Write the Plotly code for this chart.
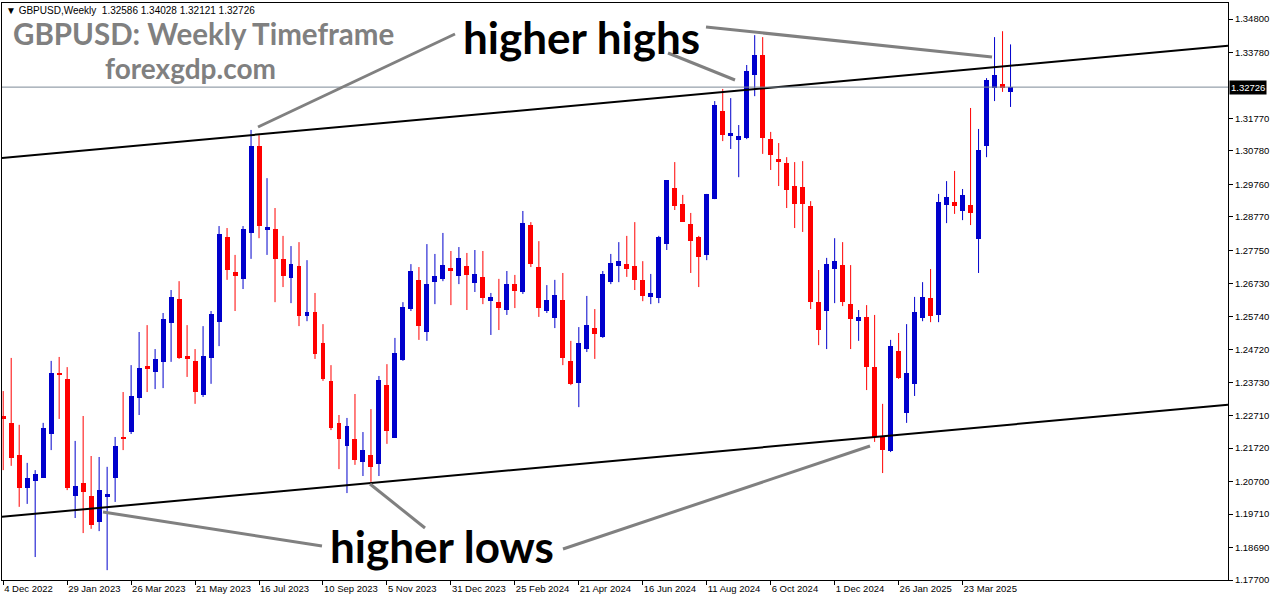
import numpy as np
import pandas as pd
import plotly.graph_objects as go

# ---------------- data (GBPUSD weekly) ----------------
start_date = "2022-12-04"
n_weeks = 127
dates = pd.date_range(start_date, periods=n_weeks, freq="7D")

opens = [
    1.2270, 1.2249, 1.2151, 1.2050, 1.2072, 1.2081, 1.2215, 1.2401, 1.2383, 1.2026,
    1.2066, 1.2026, 1.1947, 1.2026, 1.2081, 1.2206, 1.2221, 1.2325, 1.2422, 1.2404,
    1.2435, 1.2553, 1.2627, 1.2453, 1.2438, 1.2334, 1.2447, 1.2556, 1.2816, 1.2709,
    1.2688, 1.2828, 1.3093, 1.2840, 1.2840, 1.2749, 1.2691, 1.2727, 1.2575, 1.2587,
    1.2492, 1.2377, 1.2249, 1.2179, 1.2200, 1.2130, 1.2151, 1.2124, 1.2364, 1.2203,
    1.2441, 1.2596, 1.2685, 1.2526, 1.2678, 1.2688, 1.2721, 1.2697, 1.2727, 1.2675,
    1.2694, 1.2620, 1.2617, 1.2593, 1.2672, 1.2648, 1.2852, 1.2724, 1.2590, 1.2569,
    1.2624, 1.2438, 1.2371, 1.2474, 1.2538, 1.2511, 1.2678, 1.2727, 1.2733, 1.2727,
    1.2685, 1.2633, 1.2630, 1.2794, 1.2965, 1.2916, 1.2855, 1.2816, 1.2761, 1.2931,
    1.3200, 1.3123, 1.3111, 1.3117, 1.3309, 1.3370, 1.3114, 1.3053, 1.3041, 1.2971,
    1.2968, 1.2910, 1.2617, 1.2590, 1.2718, 1.2730, 1.2611, 1.2559, 1.2572, 1.2419,
    1.2206, 1.2163, 1.2468, 1.2279, 1.2368, 1.2569, 1.2630, 1.2578, 1.2913, 1.2922,
    1.2895, 1.2913, 1.2810, 1.3093, 1.3270, 1.3282, 1.32586,
]
highs = [
    1.2346, 1.2447, 1.2243, 1.2127, 1.2105, 1.2249, 1.2438, 1.2450, 1.2419, 1.2194,
    1.2270, 1.2148, 1.2145, 1.2115, 1.2206, 1.2343, 1.2425, 1.2526, 1.2547, 1.2474,
    1.2584, 1.2654, 1.2681, 1.2547, 1.2474, 1.2544, 1.2590, 1.2849, 1.2843, 1.2761,
    1.2849, 1.3142, 1.3126, 1.2995, 1.2904, 1.2819, 1.2788, 1.2800, 1.2745, 1.2645,
    1.2550, 1.2425, 1.2273, 1.2264, 1.2337, 1.2221, 1.2291, 1.2392, 1.2428, 1.2508,
    1.2617, 1.2733, 1.2724, 1.2794, 1.2764, 1.2828, 1.2773, 1.2785, 1.2767, 1.2776,
    1.2773, 1.2645, 1.2688, 1.2712, 1.2700, 1.2895, 1.2861, 1.2803, 1.2669, 1.2685,
    1.2706, 1.2499, 1.2541, 1.2636, 1.2596, 1.2712, 1.2764, 1.2800, 1.2819, 1.2861,
    1.2742, 1.2703, 1.2819, 1.2962, 1.3044, 1.2944, 1.2889, 1.2819, 1.2947, 1.3230,
    1.3267, 1.3239, 1.3157, 1.3340, 1.3431, 1.3425, 1.3136, 1.3102, 1.3059, 1.3044,
    1.3047, 1.2925, 1.2715, 1.2752, 1.2812, 1.2800, 1.2730, 1.2593, 1.2608, 1.2578,
    1.2307, 1.2502, 1.2523, 1.2550, 1.2633, 1.2678, 1.2718, 1.2947, 1.2986, 1.3017,
    1.2962, 1.3209, 1.3145, 1.3300, 1.3425, 1.3443, 1.34028,
]
lows = [
    1.2105, 1.2118, 1.1993, 1.2002, 1.1840, 1.2081, 1.2166, 1.2261, 1.2044, 1.1959,
    1.1913, 1.1926, 1.1919, 1.1800, 1.2008, 1.2166, 1.2215, 1.2273, 1.2343, 1.2352,
    1.2355, 1.2435, 1.2444, 1.2389, 1.2307, 1.2328, 1.2368, 1.2483, 1.2685, 1.2590,
    1.2657, 1.2749, 1.2812, 1.2761, 1.2617, 1.2663, 1.2614, 1.2544, 1.2559, 1.2444,
    1.2377, 1.2227, 1.2108, 1.2035, 1.2121, 1.2087, 1.2069, 1.2087, 1.2185, 1.2203,
    1.2438, 1.2590, 1.2502, 1.2499, 1.2611, 1.2681, 1.2608, 1.2672, 1.2593, 1.2648,
    1.2611, 1.2517, 1.2532, 1.2578, 1.2599, 1.2642, 1.2724, 1.2572, 1.2584, 1.2538,
    1.2425, 1.2364, 1.2297, 1.2465, 1.2444, 1.2508, 1.2672, 1.2678, 1.2694, 1.2654,
    1.2620, 1.2611, 1.2614, 1.2776, 1.2898, 1.2867, 1.2706, 1.2663, 1.2745, 1.2931,
    1.3108, 1.3084, 1.2998, 1.3114, 1.3245, 1.3069, 1.3020, 1.2971, 1.2904, 1.2843,
    1.2831, 1.2596, 1.2486, 1.2474, 1.2614, 1.2605, 1.2474, 1.2499, 1.2349, 1.2191,
    1.2096, 1.2160, 1.2383, 1.2249, 1.2331, 1.2559, 1.2556, 1.2556, 1.2858, 1.2886,
    1.2867, 1.2852, 1.2706, 1.3059, 1.3230, 1.3258, 1.32121,
]
closes = [
    1.2261, 1.2142, 1.2050, 1.2081, 1.2093, 1.2233, 1.2401, 1.2395, 1.2050, 1.2057,
    1.2038, 1.1938, 1.2044, 1.2032, 1.2179, 1.2200, 1.2331, 1.2416, 1.2413, 1.2444,
    1.2566, 1.2633, 1.2447, 1.2444, 1.2343, 1.2453, 1.2581, 1.2825, 1.2715, 1.2697,
    1.2840, 1.3093, 1.2849, 1.2846, 1.2749, 1.2697, 1.2733, 1.2575, 1.2587, 1.2459,
    1.2383, 1.2233, 1.2200, 1.2239, 1.2136, 1.2166, 1.2115, 1.2380, 1.2224, 1.2462,
    1.2602, 1.2712, 1.2544, 1.2672, 1.2697, 1.2730, 1.2715, 1.2752, 1.2700, 1.2703,
    1.2630, 1.2633, 1.2599, 1.2672, 1.2651, 1.2858, 1.2733, 1.2599, 1.2624, 1.2639,
    1.2447, 1.2368, 1.2492, 1.2547, 1.2520, 1.2703, 1.2736, 1.2742, 1.2718, 1.2685,
    1.2636, 1.2645, 1.2816, 1.2989, 1.2910, 1.2861, 1.2803, 1.2755, 1.2947, 1.3218,
    1.3126, 1.3133, 1.3123, 1.3321, 1.3370, 1.3117, 1.3066, 1.3047, 1.2959, 1.2916,
    1.2916, 1.2617, 1.2532, 1.2733, 1.2742, 1.2617, 1.2566, 1.2572, 1.2419, 1.2206,
    1.2166, 1.2483, 1.2386, 1.2401, 1.2587, 1.2633, 1.2575, 1.2922, 1.2937, 1.2910,
    1.2944, 1.2889, 1.3081, 1.3294, 1.3309, 1.3270, 1.32726,
]

# channel anchors (week index, price)
upper_channel = [(31, 1.31262), (124, 1.33335)]
lower_channel = [(13, 1.19920), (110, 1.22081)]

y_ticks = [1.34800, 1.33780, 1.31770, 1.30780, 1.29760, 1.28770, 1.27750, 1.26730,
           1.25740, 1.24720, 1.23730, 1.22710, 1.21720, 1.20700, 1.19710, 1.18690, 1.17700]
x_tick_labels = ["4 Dec 2022", "29 Jan 2023", "26 Mar 2023", "21 May 2023", "16 Jul 2023",
                 "10 Sep 2023", "5 Nov 2023", "31 Dec 2023", "25 Feb 2024", "21 Apr 2024",
                 "16 Jun 2024", "11 Aug 2024", "6 Oct 2024", "1 Dec 2024", "26 Jan 2025",
                 "23 Mar 2025"]
x_tick_dates = pd.to_datetime(x_tick_labels, format="%d %b %Y")

last_price = closes[-1]

# ---------------- figure ----------------
BULL = "#0000cc"
BEAR = "#ff0000"
W, H = 1276, 604
ML, MR, MT, MB = 2, 48, 3, 24
PW, PH = W - ML - MR, H - MT - MB


def week_date(k):
    return pd.Timestamp(start_date) + pd.Timedelta(days=7 * k)


def pxx(x):
    return (x - ML) / PW


def pxy(y):
    return 1 - (y - MT) / PH


o = np.array(opens)
c = np.array(closes)
hi = np.array(highs)
lo = np.array(lows)
bull = c >= o

fig = go.Figure()

# wicks
for mask, col in [(bull, BULL), (~bull, BEAR)]:
    xs, ys = [], []
    for d, l, h in zip(dates[mask], lo[mask], hi[mask]):
        xs += [d, d, None]
        ys += [l, h, None]
    fig.add_trace(go.Scatter(x=xs, y=ys, mode="lines", line=dict(color=col, width=1),
                             hoverinfo="skip", showlegend=False))

# bodies
bw = 7 * 24 * 3600 * 1000 * 0.62
for mask, col in [(bull, BULL), (~bull, BEAR)]:
    base = np.minimum(o, c)[mask]
    height = np.maximum(np.abs(c - o)[mask], 0.0003)
    fig.add_trace(go.Bar(x=dates[mask], y=height, base=base, width=bw,
                         marker=dict(color=col, line=dict(width=0)), showlegend=False))

# channel lines
x_lo_idx = -0.15
x_hi_idx = 153.2
for (i1, p1), (i2, p2) in [upper_channel, lower_channel]:
    slope = (p2 - p1) / (i2 - i1)
    ya = p1 + slope * (x_lo_idx - i1)
    yb = p1 + slope * (x_hi_idx - i1)
    fig.add_trace(go.Scatter(x=[week_date(x_lo_idx), week_date(x_hi_idx)], y=[ya, yb],
                             mode="lines", line=dict(color="black", width=2),
                             hoverinfo="skip", showlegend=False))

shapes = []
# current price line
shapes.append(dict(type="line", xref="paper", x0=0, x1=1, yref="y", y0=last_price, y1=last_price,
                   line=dict(color="#7d8a97", width=1)))
# grey pointer lines
for (x0, y0, x1, y1) in [(258, 127, 455, 34), (668, 53, 735, 80), (706, 27, 992, 57),
                         (103, 512, 322, 546), (370, 484, 425, 528), (563, 549, 870, 446)]:
    shapes.append(dict(type="line", xref="paper", yref="paper",
                       x0=pxx(x0), y0=pxy(y0), x1=pxx(x1), y1=pxy(y1),
                       line=dict(color="#808080", width=3)))

annotations = []
hdr = "\u25BC GBPUSD,Weekly  %.5f %.5f %.5f %.5f" % (opens[-1], highs[-1], lows[-1], closes[-1])
annotations.append(dict(text=hdr, xref="paper", yref="paper", x=pxx(4), y=pxy(10),
                        xanchor="left", yanchor="middle", showarrow=False,
                        font=dict(family="Liberation Sans, DejaVu Sans", size=10, color="black")))
annotations.append(dict(text="<b>GBPUSD: Weekly Timeframe</b>", xref="paper", yref="paper",
                        x=pxx(203), y=pxy(34), xanchor="center", yanchor="middle", showarrow=False,
                        font=dict(family="Lato", size=29.5, color="#808080")))
annotations.append(dict(text="<b>forexgdp.com</b>", xref="paper", yref="paper",
                        x=pxx(190), y=pxy(68), xanchor="center", yanchor="middle", showarrow=False,
                        font=dict(family="Lato", size=28, color="#808080")))
annotations.append(dict(text="<b>higher highs</b>", xref="paper", yref="paper",
                        x=pxx(581), y=pxy(37), xanchor="center", yanchor="middle", showarrow=False,
                        font=dict(family="Lato", size=44, color="black")))
annotations.append(dict(text="<b>higher lows</b>", xref="paper", yref="paper",
                        x=pxx(442), y=pxy(546), xanchor="center", yanchor="middle", showarrow=False,
                        font=dict(family="Lato", size=44, color="black")))
annotations.append(dict(text="%.5f" % last_price, xref="paper", yref="y", x=1, y=last_price,
                        xanchor="left", yanchor="middle", showarrow=False, bgcolor="black",
                        borderpad=1, xshift=1,
                        font=dict(family="Liberation Sans, Arial", size=9.5, color="white")))

fig.update_layout(
    width=W, height=H,
    margin=dict(l=ML, r=MR, t=MT, b=MB, autoexpand=False),
    paper_bgcolor="white", plot_bgcolor="white",
    barmode="overlay", bargap=0,
    showlegend=False,
    shapes=shapes, annotations=annotations,
    xaxis=dict(type="date", range=[week_date(x_lo_idx), week_date(x_hi_idx)],
               tickvals=list(x_tick_dates), ticktext=x_tick_labels,
               ticks="outside", ticklen=4, tickcolor="black",
               ticklabelposition="outside right", automargin=False,
               showgrid=False, zeroline=False, showline=True, linecolor="black",
               linewidth=1, mirror=True,
               tickfont=dict(family="Liberation Sans, Arial", size=9.5, color="black")),
    yaxis=dict(range=[1.1770, 1.3529], side="right", automargin=False,
               tickvals=y_ticks, ticktext=["%.5f" % v for v in y_ticks],
               ticks="outside", ticklen=4, tickcolor="black",
               showgrid=False, zeroline=False, showline=True, linecolor="black",
               linewidth=1, mirror=True,
               tickfont=dict(family="Liberation Sans, Arial", size=9.5, color="black")),
)

fig.write_html("out.html", config={"displayModeBar": False},
               post_script="document.body.style.margin='0px';document.body.style.padding='0px';")
